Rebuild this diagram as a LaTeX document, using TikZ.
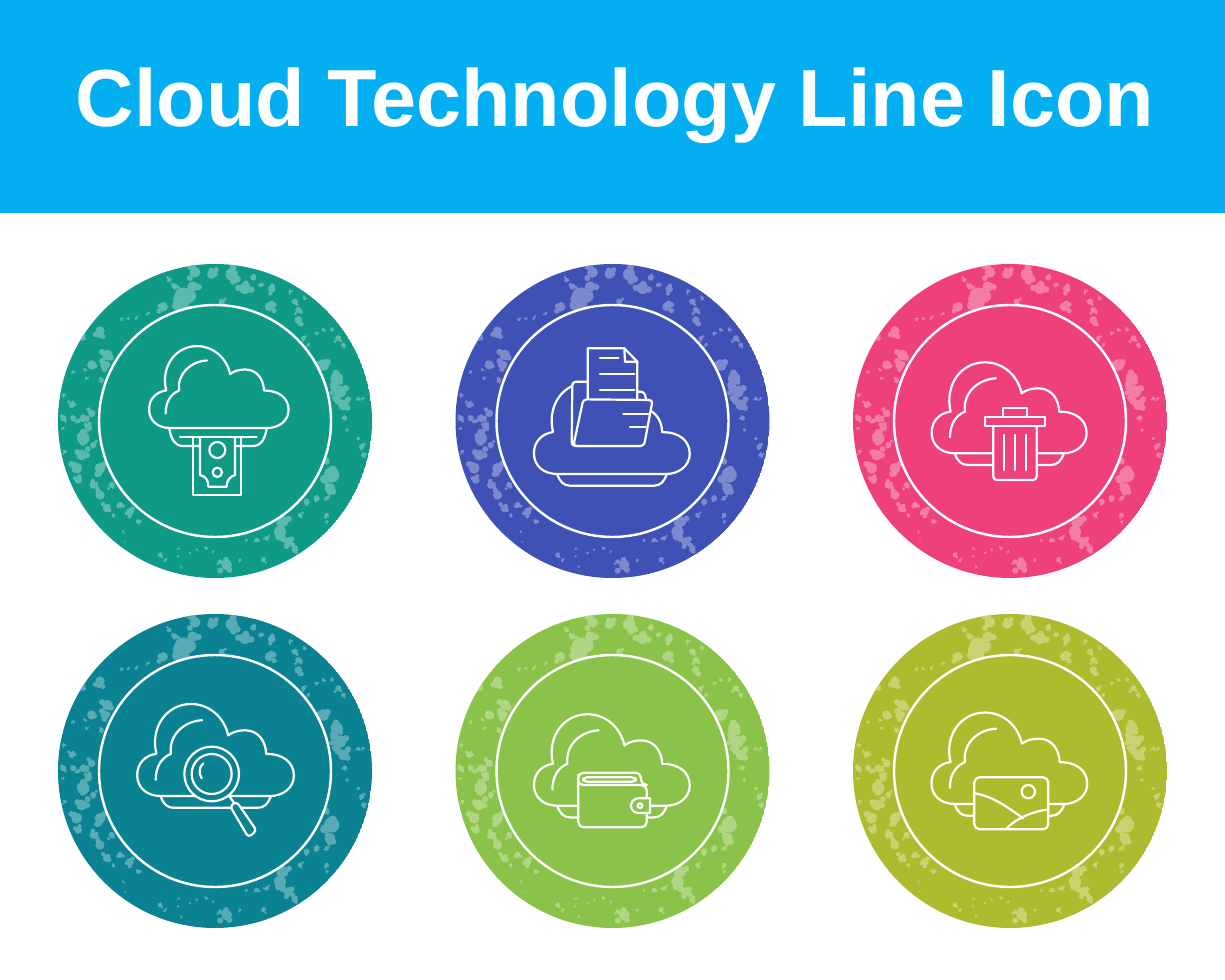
\documentclass[tikz,border=0pt]{standalone}
\usepackage{fontspec}
\setmainfont{Liberation Sans}
\definecolor{sky}{HTML}{03AEF1}
\definecolor{cA}{HTML}{0E9A85}
\definecolor{cB}{HTML}{3F51B5}
\definecolor{cC}{HTML}{EF407E}
\definecolor{cD}{HTML}{0A8291}
\definecolor{cE}{HTML}{8BC34A}
\definecolor{cF}{HTML}{AFBB2F}
% light spots of the ring: x/y/radius, 3 units to a pixel, from the centre
\newcommand\spots{-60/-446/14,-10/-440/12,50/-440/16,115/-430/8,90/-398/15,137/-408/6,170/-396/10,-67/-403/14,-95/-373/24,-120/-403/8,-137/-423/6,-70/-373/12,-105/-353/14,-155/-343/12,20/-358/8,163/-343/12,240/-358/8,250/-333/8,250/-303/10,225/-388/5,270/-368/5,-345/-270/12,-395/-248/6,-280/-303/4,-260/-308/4,-235/-310/4,-200/-323/4,-323/-198/14,-330/-168/12,-370/-168/12,-340/-123/6,-390/-153/4,-385/-128/4,-425/-148/4,305/-263/5,325/-273/5,350/-273/5,370/-248/8,385/-228/6,265/-248/6,280/-228/5,325/-168/15,365/-128/16,375/-88/16,385/-48/14,360/-100/12,370/-60/10,390/-8/6,395/27/4,430/-68/5,445/-68/4,430/52/4,440/77/7,445/102/6,335/122/8,350/162/20,345/202/14,305/232/8,275/242/8,335/232/6,255/282/6,335/282/6,335/302/4,205/302/14,195/332/16,220/362/12,240/387/8,155/352/6,125/357/6,95/357/4,145/417/6,35/432/14,15/422/6,75/417/4,-110/382/3,-110/407/3,-100/437/3,-165/402/6,-150/417/4,-25/382/4,-55/387/3,-5/392/3,-75/397/3,-455/-78/5,-430/-48/8,-455/-8/8,-425/-8/8,-395/-8/10,-370/-23/10,-395/52/16,-380/20/10,-400/102/14,-415/142/14,-410/177/10,-365/72/8,-345/142/14,-365/192/10,-345/222/12,-325/262/10,-285/252/8,-255/272/10,-230/302/6,-310/192/8,-450/92/5,-455/22/4,-275/332/3,-270/362/2,-305/282/5}
\newcommand\disc[3]{%
  \begin{scope}
    \clip (#1,#2) circle (157);
    \fill[#3] (#1,#2) circle (157);
    \pgfmathsetseed{17}
    \begin{scope}[shift={(#1,#2)},scale=1/3]
      \foreach \a/\b/\r in \spots {
        \fill[#3!68!white] (\a,\b) circle ({\r*1.15});
        \foreach \k in {1,2,3}
          \fill[#3!68!white] ({\a+1.4*\r*rand},{\b+1.4*\r*rand}) circle ({\r*.65});
      }
    \end{scope}
  \end{scope}
  \draw[white,line width=1.4pt,fill=#3] (#1,#2) circle (116);
}
\tikzset{
  pics/cloud/.style={code={
    \draw[l] (-163,0) .. controls (-205,0) and (-233,-25) .. (-233,-62)
      .. controls (-233,-100) and (-205,-122) .. (-176,-125)
      .. controls (-195,-205) and (-145,-273) .. (-73,-273)
      .. controls (-20,-273) and (25,-235) .. (37,-180)
      .. controls (50,-190) and (68,-195) .. (87,-195)
      .. controls (125,-195) and (148,-165) .. (150,-125)
      .. controls (200,-125) and (232,-100) .. (232,-60)
      .. controls (232,-25) and (200,0) .. (162,0) -- cycle;
  }},
  pics/gleam/.style={code={
    \draw[l] (-40,-225) .. controls (-95,-222) and (-140,-180) .. (-133,-125)
      .. controls (-158,-115) and (-178,-90) .. (-178,-48);
  }},
  pics/tray/.style={code={
    \draw[l] (-163,3) .. controls (-155,22) and (-145,35) .. (-125,35) -- (125,35)
      .. controls (145,35) and (155,22) .. (163,3);
  }},
}
\begin{document}
\begin{tikzpicture}[x=.02cm,y=-.02cm,
    l/.style={white,line width=1.25pt,line join=round,line cap=round}]
  \useasboundingbox (0,0) rectangle (1225,980);
  \fill[sky] (0,0) rectangle (1225,213);
  \node[white,font=\bfseries\fontsize{46.1pt}{50pt}\selectfont] (title) at (615,106) {Cloud Technology Line Icon};
  \disc{215}{421}{cA}
  \disc{612.5}{421}{cB}
  \disc{1010}{421}{cC}
  \disc{215}{771}{cD}
  \disc{612.5}{771}{cE}
  \disc{1010}{771}{cF}
  % money
  \pic[scale=.3] at (219,428) {cloud};
  \pic[scale=.3] at (219,428) {gleam};
  \begin{scope}[shift={(120,320)},scale=1/3]
    \draw[l] (148,328) .. controls (155,360) and (165,378) .. (190,378) -- (240,378);
    \draw[l] (440,328) .. controls (433,360) and (423,378) .. (398,378) -- (345,378);
    \draw[l] (180,352) -- (410,352);
    \draw[l] (220,355) -- (220,525) -- (362,525) -- (362,355);
    \draw[l] (240,355) -- (240,465) .. controls (258,470) and (265,480) .. (265,500) -- (320,500)
      .. controls (320,480) and (330,470) .. (345,465) -- (345,355);
    \draw[l] (292,390) circle (24);
    \draw[l] (292,457) circle (14);
  \end{scope}
  % folder
  \pic[scale=.335] at (612,474) {cloud};
  \pic[scale=.335] at (612,474) {tray};
  \begin{scope}[shift={(515,320)},scale=1/3]
    \draw[l,fill=cB,rounded corners=2pt] (170,378) -- (172,185) -- (230,185) -- (230,215) -- (388,215) -- (395,245) -- (385,378) -- cycle;
    \draw[l,fill=cB] (218,245) -- (218,85) -- (328,85) -- (367,125) -- (367,245);
    \draw[l] (328,85) -- (330,125) -- (367,125);
    \draw[l] (255,115) -- (310,115) (255,162) -- (358,162) (255,210) -- (358,210);
    \draw[l,fill=cB,rounded corners=2pt] (175,378) -- (205,238) -- (413,240) -- (387,378) -- cycle;
    \draw[l] (325,283) -- (400,283) (345,322) -- (392,322);
  \end{scope}
  % bin
  \pic[scale=1/3] at (1009.3,453.3) {cloud};
  \pic[scale=1/3] at (1009.3,453.3) {gleam};
  \pic[scale=1/3] at (1009.3,453.3) {tray};
  \begin{scope}[shift={(910,330)},scale=1/3]
    \draw[l,fill=cC,rounded corners=2pt] (250,288) -- (250,450) -- (380,450) -- (380,288);
    \draw[l,fill=cC] (225,262) rectangle (405,288);
    \draw[l] (278,262) -- (278,235) -- (352,235) -- (352,262);
    \draw[l] (282,315) -- (282,420) (315,315) -- (315,420) (347,315) -- (347,420);
  \end{scope}
  % magnifier
  \pic[scale=.337] at (215.7,796) {cloud};
  \pic[scale=.337] at (215.7,796) {gleam};
  \pic[scale=.337] at (215.7,796) {tray};
  \begin{scope}[shift={(120,680)},scale=1/3]
    \draw[l] (325,345) -- (342,368);
    \draw[l,fill=cD,rounded corners=2pt] (330,378) -- (350,365) -- (410,452) -- (385,472) -- cycle;
    \draw[l,fill=cD] (275,282) circle (82);
    \draw[l] (275,282) circle (60);
    \draw[l] (250,250) .. controls (236,262) and (236,280) .. (245,295);
  \end{scope}
  % wallet
  \pic[scale=.335] at (612,805.7) {cloud};
  \pic[scale=.335] at (612,805.7) {gleam};
  \pic[scale=.335] at (612,805.7) {tray};
  \begin{scope}[shift={(515,690)},scale=1/3]
    \draw[l,fill=cE,rounded corners=3pt] (190,270) -- (190,412) -- (395,412) -- (395,285) -- (378,285) -- (378,248) -- (190,248) -- cycle;
    \draw[l,rounded corners=2pt] (205,262) rectangle (362,275);
    \draw[l] (190,270) .. controls (190,280) and (197,285) .. (205,285) -- (395,285);
    \draw[l,fill=cE] (405,325) -- (370,325) arc[start angle=270,end angle=90,radius=22] -- (405,369) -- cycle;
    \draw[l] (375,347) circle (7);
  \end{scope}
  % picture
  \pic[scale=.335] at (1009.5,804) {cloud};
  \pic[scale=.335] at (1009.5,804) {gleam};
  \pic[scale=.335] at (1009.5,804) {tray};
  \begin{scope}[shift={(910,690)},scale=1/3]
    \draw[l,fill=cF,rounded corners=3pt] (193,262) rectangle (415,418);
    \draw[l] (355,305) circle (20);
    \draw[l] (195,310) .. controls (250,320) and (290,350) .. (340,385);
    \draw[l] (290,415) .. controls (320,385) and (365,365) .. (415,358);
  \end{scope}
\end{tikzpicture}
\end{document}
